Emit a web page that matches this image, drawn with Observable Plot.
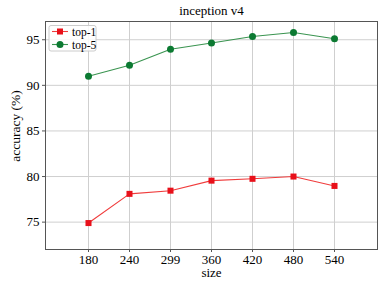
<!DOCTYPE html>
<html>
<head>
<meta charset="utf-8">
<script src="https://cdn.jsdelivr.net/npm/d3@7"></script>
<script src="https://cdn.jsdelivr.net/npm/@observablehq/plot@0.6"></script>
<style>
  html, body { margin: 0; padding: 0; background: white; }
</style>
</head>
<body>
<div id="chart"></div>
<script>
const title = "inception v4";
const xLabel = "size";
const yLabel = "accuracy (%)";
const sizes = ["180", "240", "299", "360", "420", "480", "540"];
const top1 = [74.9, 78.1, 78.45, 79.55, 79.75, 80.0, 78.97];
const top5 = [91.0, 92.2, 93.95, 94.65, 95.35, 95.8, 95.1];
const yTicks = [75, 80, 85, 90, 95];
const seriesNames = ["top-1", "top-5"];

const redLine = "#f03c3c", redMark = "#e8101a";
const greenLine = "#3a9450", greenMark = "#0c7a32";
const serif = "'Liberation Serif', 'Times New Roman', serif";

const d1 = sizes.map((s, i) => ({size: s, value: top1[i]}));
const d5 = sizes.map((s, i) => ({size: s, value: top5[i]}));

const chart = Plot.plot({
  width: 387, height: 284,
  marginLeft: 45, marginRight: 10, marginTop: 21, marginBottom: 35,
  style: {fontFamily: serif, fontSize: "13px", color: "black", background: "white"},
  x: {type: "point", domain: sizes, padding: 1, label: null},
  y: {domain: [72, 97], label: null},
  marks: [
    Plot.gridX(sizes, {stroke: "#cfcfcf", strokeOpacity: 1}),
    Plot.gridY(yTicks, {stroke: "#cfcfcf", strokeOpacity: 1}),
    Plot.frame({stroke: "#555"}),
    Plot.axisX(sizes, {tickSize: 3, tickPadding: 2, label: null, fontSize: 13, stroke: "#555"}),
    Plot.axisY(yTicks, {tickSize: 3, tickPadding: 3, label: null, fontSize: 13, stroke: "#555"}),
    Plot.line(d1, {x: "size", y: "value", stroke: redLine, strokeWidth: 1.1}),
    Plot.dot(d1, {x: "size", y: "value", symbol: "square", r: 3.4, fill: redMark, stroke: "none"}),
    Plot.line(d5, {x: "size", y: "value", stroke: greenLine, strokeWidth: 1.1}),
    Plot.dot(d5, {x: "size", y: "value", symbol: "circle", r: 3.5, fill: greenMark, stroke: "none"}),
    Plot.text([title], {text: d => d, frameAnchor: "top", dy: -10.5, lineAnchor: "middle", fontSize: 13}),
    Plot.text([xLabel], {text: d => d, frameAnchor: "bottom", dy: 23.5, lineAnchor: "middle", fontSize: 13}),
    Plot.text([yLabel], {text: d => d, frameAnchor: "left", dx: -30, dy: -9.5, rotate: -90, textAnchor: "middle", lineAnchor: "middle", fontSize: 13.5})
  ]
});
document.getElementById("chart").appendChild(chart);

// legend
const svg = d3.select(chart);
const lg = svg.append("g").attr("font-family", serif).attr("font-size", 11.5).attr("text-anchor", "start");
lg.append("rect").attr("x", 49).attr("y", 25.5).attr("width", 47).attr("height", 25.5)
  .attr("rx", 2).attr("fill", "white").attr("fill-opacity", 0.85).attr("stroke", "#cccccc");
const entries = [
  {name: seriesNames[0], line: redLine, mark: redMark, sym: "square", y: 31.5},
  {name: seriesNames[1], line: greenLine, mark: greenMark, sym: "circle", y: 44.5}
];
for (const e of entries) {
  lg.append("line").attr("x1", 52).attr("x2", 68).attr("y1", e.y).attr("y2", e.y)
    .attr("stroke", e.line).attr("stroke-width", 1.1);
  if (e.sym === "square") {
    lg.append("rect").attr("x", 57).attr("y", e.y - 3).attr("width", 6).attr("height", 6).attr("fill", e.mark);
  } else {
    lg.append("circle").attr("cx", 60).attr("cy", e.y).attr("r", 3.5).attr("fill", e.mark);
  }
  lg.append("text").attr("x", 72).attr("y", e.y).attr("dy", "0.35em").attr("text-anchor", "start").text(e.name);
}
</script>
</body>
</html>
